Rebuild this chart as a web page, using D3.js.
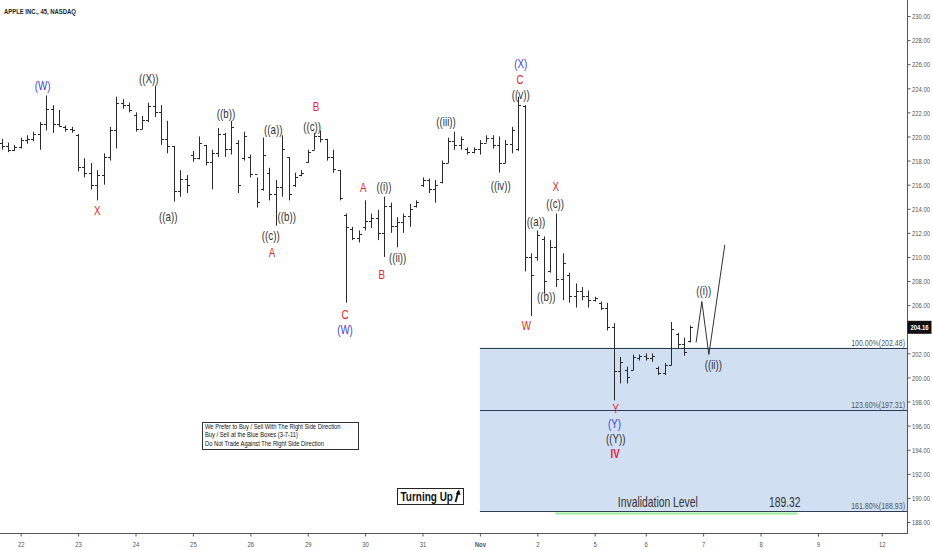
<!DOCTYPE html>
<html><head><meta charset="utf-8">
<script src="https://cdn.jsdelivr.net/npm/d3@7"></script>
<style>
html,body{margin:0;padding:0;background:#fff;}
svg{display:block;font-family:"Liberation Sans",Arial,sans-serif;}
</style></head><body>
<svg id="c" width="932" height="550"></svg>
<script>
// ---------- DATA ----------
const title = "APPLE INC., 45, NASDAQ";
const dayLabels   = ["22","23","24","25","26","29","30","31","Nov","2","5","6","7","8","9","12"];
const dayStartBar = [0,9,18,27,36,45,54,63,72,81,90,98,107,116,125,135];
const priceTicks  = [188,190,192,194,196,198,200,202,206,208,210,212,214,216,218,220,222,224,226,228,230];
const firstBar = -3;
const high = [219.8,219.5,219.3,
 219.9,220.1,220.4,221.2,223.4,222.6,222.2,220.9,220.8,
 220.2,218.2,217.8,217.2,218.6,220.8,223.3,223.1,222.8,
 222.0,221.7,222.8,224.2,222.6,221.3,219.2,217.2,216.8,
 218.8,220.0,219.3,218.9,220.7,220.3,221.3,219.7,220.4,
 218.5,216.6,219.9,217.4,216.4,220.1,218.3,217.0,217.2,
 218.9,220.3,220.5,219.8,218.9,217.2,213.6,212.5,212.2,
 214.7,213.6,213.9,215.0,214.5,213.3,213.6,214.4,214.7,
 216.6,216.5,216.4,218.0,219.9,220.4,220.0,219.1,219.1,
 219.7,220.1,220.1,220.0,219.7,220.8,223.3,222.6,210.3,
 212.2,211.7,211.4,213.6,210.3,208.7,207.8,207.5,207.2,
 206.7,206.3,206.2,204.5,201.7,200.9,201.9,201.9,202.0,
 202.0,200.9,201.2,204.6,203.7,203.3,204.3];
const low = [218.9,218.7,218.8,
 219.0,219.4,219.6,218.9,220.5,220.3,220.8,220.4,220.3,
 217.1,216.6,215.6,214.7,216.0,218.0,219.0,222.3,222.0,
 220.4,220.6,221.2,221.6,219.3,218.6,214.6,215.0,215.3,
 217.9,218.1,217.6,215.6,218.3,218.3,218.5,215.3,218.0,
 216.6,214.1,215.5,214.7,212.6,215.0,214.7,215.8,216.7,
 217.8,218.9,219.5,218.0,217.0,214.7,206.2,211.4,211.2,
 212.2,212.4,211.4,210.0,212.0,210.8,212.0,212.5,214.1,
 215.8,215.3,214.5,216.1,217.8,218.9,218.9,218.5,218.6,
 218.5,219.5,219.0,217.0,217.8,218.6,218.8,208.8,205.1,
 209.7,207.0,208.7,207.5,206.4,206.2,205.8,206.4,205.8,
 206.3,205.6,203.9,198.1,199.5,199.5,200.6,201.4,201.4,
 201.3,200.2,200.2,201.0,202.4,201.8,202.9];
const open = [219.5,219.2,218.9,
 219.1,219.7,219.8,220.2,221.0,222.3,221.0,220.8,220.6,
 220.1,217.5,217.0,216.0,216.8,218.3,220.5,222.8,222.6,
 221.8,220.6,221.4,222.5,222.0,219.8,219.2,215.5,216.5,
 218.5,218.2,219.3,217.9,218.6,220.2,219.0,219.5,218.2,
 218.3,216.9,215.6,217.0,215.2,215.8,218.3,216.0,216.8,
 217.9,218.9,220.0,219.8,218.3,217.2,213.5,212.3,211.6,
 212.5,213.0,213.2,212.0,214.2,212.6,212.9,213.4,214.2,
 216.0,216.4,215.6,216.2,217.8,219.6,219.3,219.0,218.7,
 219.0,219.5,219.9,219.3,217.8,219.4,219.0,222.5,210.0,
 210.0,211.5,208.8,210.8,208.2,208.5,206.8,207.2,206.8,
 206.4,206.2,205.8,204.2,200.5,200.6,200.6,201.6,201.8,
 201.6,200.8,200.4,201.0,203.6,202.8,203.0];
const close = [219.2,218.9,219.1,
 219.7,219.8,220.2,221.0,222.3,221.0,220.9,220.6,220.5,
 217.5,217.0,216.0,216.8,218.3,220.5,222.8,222.6,222.2,
 220.6,221.4,222.5,222.0,219.8,219.2,215.5,216.5,216.0,
 218.2,219.5,217.9,218.6,220.2,219.0,220.8,216.0,220.0,
 216.9,214.6,218.5,215.2,215.8,219.0,215.2,216.6,217.0,
 218.7,220.0,219.8,218.3,217.3,214.9,212.5,211.6,211.9,
 213.0,213.2,212.0,214.2,212.6,212.9,213.4,214.0,214.6,
 216.4,215.6,216.0,217.8,219.6,219.3,219.8,218.7,219.0,
 219.5,219.9,219.3,217.8,219.4,220.5,222.6,210.0,208.5,
 211.8,208.0,210.8,208.2,209.5,206.8,207.2,206.8,206.4,
 206.6,205.8,204.2,200.5,201.3,200.0,201.7,201.8,201.6,
 201.8,200.4,201.0,204.0,202.8,202.1,204.16];
const lastPrice = 204.16;

// projected path
const projBar = [105.9,106.8,107.9,110.4];
const projVal = [202.9,206.3,201.9,211.0];

// Fibonacci box
const fibStartBar = 72;
const fibPct = ["100.00%","123.60%","161.80%"];
const fibVal = [202.48,197.31,188.93];

// wave labels
const waveText  = ["(W)","X","((X))","((a))","((b))","((a))","((c))","A","((b))","((c))","B","C","(W)","A","((i))","B","((ii))","((iii))","((iv))","(X)","C","((v))","X","((c))","((a))","((b))","W","Y","(Y)","((Y))","IV","((i))","((ii))"];
const waveBar   = [3.45,12.0,20.07,23.14,32.19,39.6,39.2,39.4,41.7,45.7,46.3,50.85,50.85,53.7,56.96,56.6,59.1,66.7,75.26,78.4,78.3,78.4,83.9,83.8,80.8,82.4,79.3,93.3,93.1,93.3,93.2,107.1,108.6];
const wavePrice = [224.27,213.9,224.85,213.4,221.95,220.62,211.82,210.41,213.4,220.87,222.49,205.22,203.98,215.75,215.83,208.56,209.96,221.23,215.91,226.05,224.72,223.46,215.9,214.45,212.98,206.7,204.35,197.42,196.16,194.94,193.66,207.2,201.09];
const waveKind  = ["b","r","k","k","k","k","k","r","k","k","r","r","b","r","k","r","k","k","k","b","r","k","r","k","k","k","r","r","b","k","R","k","k"];

const noteLines = ["We Prefer to Buy / Sell With The Right Side Direction","Buy / Sell at the Blue Boxes (3-7-11)","Do Not Trade Against The Right Side Direction"];
const invalidText = "Invalidation Level";
const invalidVal = 189.32;
const turnText = "Turning Up";

// ---------- DRAW ----------
const svg = d3.select("#c");
const plotRight = 907, plotBottom = 533;
const SX = 0.74;
const x = d3.scaleLinear().domain([0,135]).range([20.7,881.7]);
const y = d3.scaleLinear().domain([188,230]).range([522,16]);
const colors = {b:"#3f3fd4", r:"#e5242b", R:"#e5242b", k:"#333333"};

function addText(parent, px, py, str, o={}) {
  return parent.append("text")
    .attr("transform", `translate(${px},${py}) scale(${o.sx ?? SX},1)`)
    .attr("text-anchor", o.anchor || "middle")
    .attr("dy", o.dy ?? "0.35em")
    .attr("font-size", o.size || 14)
    .attr("font-weight", o.weight || "normal")
    .attr("fill", o.color || "#333")
    .text(str);
}

// fib box
const fx0 = x(fibStartBar);
svg.append("rect").attr("x", fx0).attr("y", y(fibVal[0]))
  .attr("width", plotRight - fx0).attr("height", y(fibVal[2]) - y(fibVal[0]))
  .attr("fill", "#d0dff2");
fibVal.forEach((v,i) => {
  const yy = Math.round(y(v)) + 0.5;
  svg.append("line").attr("x1", fx0).attr("x2", plotRight).attr("y1", yy).attr("y2", yy)
    .attr("stroke", "#2e3d55").attr("stroke-width", 1);
  addText(svg, plotRight - 2, yy - 3, `${fibPct[i]}(${v.toFixed(2)})`, {anchor:"end", size:9.5, color:"#555", dy:0});
});

// invalidation
svg.append("line").attr("x1", x(83.8)).attr("x2", x(121.8))
  .attr("y1", y(188.7)).attr("y2", y(188.7))
  .attr("stroke", "#98ee98").attr("stroke-width", 2);
addText(svg, x(99.9), y(189.63), invalidText, {size:14, color:"#333"});
addText(svg, x(119.8), y(189.63), invalidVal.toFixed(2), {size:14, color:"#333"});

// bars
const bars = high.map((h,i) => ({i:i+firstBar, h, l:low[i], o:open[i], c:close[i]}));
const gb = svg.append("g").attr("stroke", "#2a2a2a").attr("stroke-width", 1).attr("fill","none");
bars.forEach(b => {
  const cx = Math.round(x(b.i)) + 0.5;
  let y1 = y(b.h), y2 = y(b.l);
  if (y2 - y1 < 2) { const m = (y1+y2)/2; y1 = m-1; y2 = m+1; }
  gb.append("line").attr("x1", cx).attr("x2", cx).attr("y1", y1).attr("y2", y2);
  const yo = Math.round(y(b.o)) + 0.5, yc = Math.round(y(b.c)) + 0.5;
  gb.append("line").attr("x1", cx - 2.5).attr("x2", cx).attr("y1", yo).attr("y2", yo);
  gb.append("line").attr("x1", cx).attr("x2", cx + 2.5).attr("y1", yc).attr("y2", yc);
});

// projection
const line = d3.line().x(d => x(d[0])).y(d => y(d[1]));
svg.append("path").attr("d", line(projBar.map((b,i) => [b, projVal[i]])))
  .attr("fill","none").attr("stroke","#333").attr("stroke-width",1);

// wave labels
waveText.forEach((t,i) => {
  const k = waveKind[i];
  addText(svg, x(waveBar[i]), y(wavePrice[i]), t,
    {size:13.2, color:colors[k], weight: k === "R" ? "bold" : "normal"});
});

// note box
const nb = svg.append("g");
nb.append("rect").attr("x", 202.5).attr("y", 422.5).attr("width", 156).attr("height", 27)
  .attr("fill", "#fff").attr("stroke", "#333").attr("stroke-width", 1);
noteLines.forEach((s,i) => addText(nb, 205, 429 + i*8.4, s, {anchor:"start", size:7.8, color:"#111", dy:0}));

// turning up box
const tb = svg.append("g");
tb.append("rect").attr("x", 397.5).attr("y", 488.5).attr("width", 66).attr("height", 16)
  .attr("fill", "#fff").attr("stroke", "#222").attr("stroke-width", 1);
addText(tb, 400.5, 496.5, turnText, {anchor:"start", size:13.5, weight:"bold", color:"#111"});
tb.append("path").attr("d", "M455.5,502 L458.5,491").attr("stroke","#111").attr("stroke-width",1.8).attr("fill","none");
tb.append("path").attr("d", "M455.6,494 L459,489.5 L460.6,495 Z").attr("fill","#111");

// axes lines
svg.append("line").attr("x1", plotRight + 0.5).attr("x2", plotRight + 0.5).attr("y1", 0).attr("y2", plotBottom + 1)
  .attr("stroke", "#555");
svg.append("line").attr("x1", 0).attr("x2", plotRight + 1).attr("y1", plotBottom + 0.5).attr("y2", plotBottom + 0.5)
  .attr("stroke", "#555");

// right axis
const ya = svg.append("g").attr("transform", `translate(${plotRight + 0.5},0)`)
  .call(d3.axisRight(y).tickValues(priceTicks).tickFormat(d => d.toFixed(2)).tickSize(3).tickSizeOuter(0));
ya.select(".domain").remove();
ya.selectAll("line").attr("stroke", "#555");
ya.selectAll("text").attr("x", null).attr("dy", null)
  .attr("transform", "translate(4.5,0) scale(0.74,1)").attr("dy","0.35em")
  .attr("font-size", 8).attr("fill", "#555").attr("font-family", "Liberation Sans, Arial, sans-serif");

// bottom axis
const xa = svg.append("g").attr("transform", `translate(0,${plotBottom + 0.5})`)
  .call(d3.axisBottom(x).tickValues(dayStartBar).tickFormat((d,i) => dayLabels[i]).tickSize(3).tickSizeOuter(0));
xa.select(".domain").remove();
xa.selectAll("line").attr("stroke", "#555");
xa.selectAll("text").attr("y", null).attr("dy", null)
  .attr("transform", "translate(0,13) scale(0.74,1)")
  .attr("font-size", 8).attr("fill", "#555").attr("font-family", "Liberation Sans, Arial, sans-serif")
  .attr("font-weight", (d,i) => dayLabels[i] === "Nov" ? "bold" : "normal");

// last price tag
const yl = y(lastPrice);
svg.append("rect").attr("x", plotRight + 0.5).attr("y", yl - 6.5).attr("width", 24).attr("height", 13).attr("fill", "#111");
addText(svg, plotRight + 12.5, yl, lastPrice.toFixed(2), {size:8, color:"#fff", weight:"bold"});

// title
addText(svg, 4, 14, title, {anchor:"start", size:8, weight:"bold", color:"#222", dy:0});
</script>
</body></html>
